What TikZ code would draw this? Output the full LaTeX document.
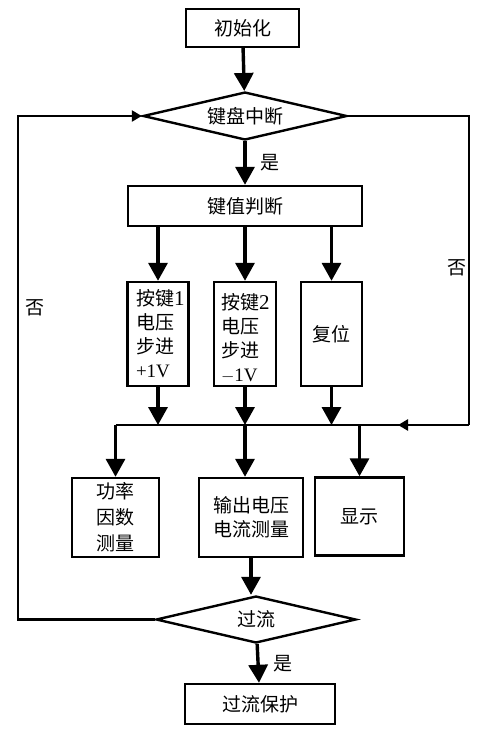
\documentclass[tikz,border=0pt]{standalone}
\usepackage{fontspec}
\setmainfont{Liberation Serif}
\newfontfamily\cjk{Noto Sans CJK SC}
\usetikzlibrary{arrows.meta,shapes.geometric}
\tikzset{
  box/.style={draw=black, line width=2.4pt, inner sep=0pt, font=\cjk\fontsize{19}{24}\selectfont, align=center},
  dia/.style={draw=black, line width=2.4pt, diamond, aspect=4, inner sep=0pt, font=\cjk\fontsize{19}{24}\selectfont},
  arr/.style={line width=3.4pt, -{Triangle[length=18pt,width=19pt]}},
  thinarr/.style={line width=2.4pt, -{Triangle[length=10pt,width=11pt]}},
  wire/.style={line width=2.4pt},
  lbl/.style={font=\cjk\fontsize{19}{22}\selectfont, inner sep=0pt}
}
\begin{document}
\begin{tikzpicture}[x=1pt,y=-1pt]
\useasboundingbox (0,0) rectangle (496,729);
\fill[white] (0,0) rectangle (496,729);
% nodes
\node[box, minimum width=113pt, minimum height=38pt] (init) at (242.5,28) {初始化};
\node[dia, minimum width=204pt, minimum height=48pt] (kb) at (245,116) {键盘中断};
\node[box, minimum width=234pt, minimum height=40pt] (judge) at (245,206) {键值判断};
\node[box, minimum width=61pt, minimum height=104pt] (k1) at (158,334) {};
\node[box, draw=none, align=left, text width=52pt] (k1text) at (162,334) {按键{\rmfamily\fontsize{21}{24}\selectfont 1}\\电压\\步进\\{\rmfamily +1V}};
\node[box, minimum width=62pt, minimum height=104pt] (k2) at (245,334) {};
\node[box, draw=none, align=left, text width=54pt] (k2text) at (248,338) {按键{\rmfamily\fontsize{21}{24}\selectfont 2}\\电压\\步进\\{\rmfamily $-$1V}};
\node[box, minimum width=61pt, minimum height=104pt] (reset) at (331.5,334) {复位};
\coordinate (bus) at (0,425);
\node[box, minimum width=87pt, minimum height=79pt, font=\cjk\fontsize{19}{26}\selectfont] (pf) at (115.5,517.5) {功率\\因数\\测量};
\node[box, minimum width=104pt, minimum height=79pt] (meas) at (251,517.5) {输出电压\\电流测量};
\node[box, minimum width=89pt, minimum height=78pt] (disp) at (359.5,516.5) {显示};
\node[dia, minimum width=200pt, minimum height=47pt] (oc) at (256,619.5) {过流};
\node[box, minimum width=150pt, minimum height=40pt] (prot) at (260,704) {过流保护};
\coordinate (busL) at (pf.north |- bus);
\coordinate (busR) at (469,425);
\coordinate (busTip) at (398,425);
\coordinate (loopL) at (18,619.5);
% connectors
\draw[arr] (init) -- (kb);
\draw[arr] (kb) -- (judge) node[lbl, pos=0.5, right=14pt] {是};
\draw[arr] (k1.north |- judge.south) -- (k1.north);
\draw[arr] (k2.north |- judge.south) -- (k2.north);
\draw[arr] (reset.north |- judge.south) -- (reset.north);
\draw[arr] (k1.south) -- (k1.south |- bus);
\draw[arr] (k2.south) -- (k2.south |- bus);
\draw[arr] (reset.south) -- (reset.south |- bus);
\draw[wire] (busL) -- (busR);
\draw[wire, line width=2pt] (kb.east) -| (busR);
\draw[thinarr] (busR) -- (busTip);
\draw[arr] (busL) -- (pf.north);
\draw[arr] (k2.south |- bus) -- (k2.south |- meas.north);
\draw[arr] (disp.north |- bus) -- (disp.north);
\draw[arr] (meas.south) -- (meas.south |- oc.north);
\draw[arr] (oc) -- (prot) node[lbl, pos=0.5, right=14pt] {是};
\draw[wire] (oc.west) -- (loopL) |- ([xshift=-12pt]kb.west);
\draw[thinarr] ([xshift=-14pt]kb.west) -- (kb.west);
\node[lbl] (noL) at (35,308) {否};
\node[lbl] (noR) at (457,268) {否};
\end{tikzpicture}
\end{document}
